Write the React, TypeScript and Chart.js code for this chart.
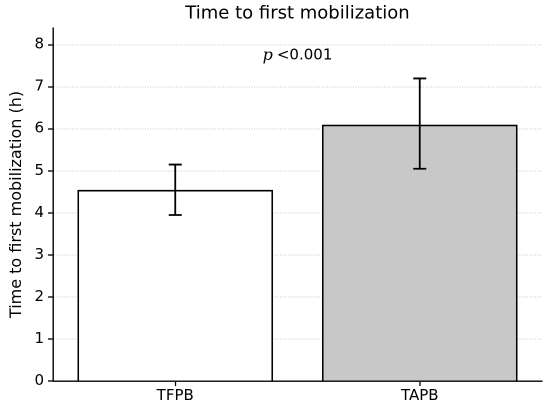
import { useEffect, useRef } from 'react';
import { Chart, registerables } from 'chart.js';

Chart.register(...registerables);

const groups = ['TFPB', 'TAPB'];
const means = [4.55, 6.1];
const errLow = [3.95, 5.05];
const errHigh = [5.15, 7.2];
const barColors = ['#ffffff', '#c8c8c8'];
const chartTitle = 'Time to first mobilization';
const pText = '<0.001';
const pLevel = 7.74;

const FONT = "'DejaVu Sans', sans-serif";

const errorBars = {
  id: 'errorBars',
  afterDatasetsDraw(chart: Chart) {
    const { ctx, scales } = chart;
    const x = scales.x;
    const y = scales.y;
    ctx.save();
    ctx.strokeStyle = '#000';
    ctx.lineWidth = 1.8;
    groups.forEach((_, i) => {
      const cx = x.getPixelForValue(i);
      const top = y.getPixelForValue(errHigh[i]);
      const bot = y.getPixelForValue(errLow[i]);
      ctx.beginPath();
      ctx.moveTo(cx, top);
      ctx.lineTo(cx, bot);
      ctx.moveTo(cx - 6.5, top);
      ctx.lineTo(cx + 6.5, top);
      ctx.moveTo(cx - 6.5, bot);
      ctx.lineTo(cx + 6.5, bot);
      ctx.stroke();
    });

    const area = chart.chartArea;
    const midX = (area.left + area.right) / 2;

    // title, centred over the plot area like matplotlib
    ctx.fillStyle = '#000';
    ctx.textBaseline = 'middle';
    ctx.textAlign = 'center';
    ctx.font = `18px ${FONT}`;
    ctx.fillText(chartTitle, midX, 14);

    // p-value annotation
    const py = y.getPixelForValue(pLevel);
    const pFont = "italic 16px 'DejaVu Serif', serif";
    const rFont = `15px ${FONT}`;
    ctx.textAlign = 'left';
    ctx.font = pFont;
    const pw = ctx.measureText('p').width;
    ctx.font = rFont;
    const rw = ctx.measureText(pText).width;
    const startX = midX - (pw + 4 + rw) / 2;
    ctx.font = pFont;
    ctx.fillText('p', startX, py);
    ctx.font = rFont;
    ctx.fillText(pText, startX + pw + 4, py);
    ctx.restore();
  },
};

export default function App() {
  const canvasRef = useRef<HTMLCanvasElement | null>(null);

  useEffect(() => {
    document.body.style.margin = '0';
    if (canvasRef.current === null) return () => {};
    const chart = new Chart(canvasRef.current, {
      type: 'bar',
      data: {
        labels: groups,
        datasets: [
          {
            data: means,
            backgroundColor: barColors,
            borderColor: '#000',
            borderWidth: 1.7,
            categoryPercentage: 0.8,
            barPercentage: 1,
          },
        ],
      },
      plugins: [errorBars],
      options: {
        animation: false,
        responsive: false,
        devicePixelRatio: 2,
        layout: { padding: { left: 0, right: 8, top: 28, bottom: 0 } },
        plugins: {
          legend: { display: false },
          tooltip: { enabled: false },
          title: { display: false },
        },
        scales: {
          x: {
            grid: {
              offset: false,
              drawOnChartArea: false,
              drawTicks: true,
              tickLength: 5,
              tickColor: '#000',
              tickWidth: 1.3,
            },
            border: { color: '#000', width: 1.4 },
            ticks: {
              color: '#000',
              font: { family: FONT, size: 15 },
              padding: 1,
            },
            afterFit: (scale: any) => {
              scale.height = 29;
            },
          },
          y: {
            min: 0,
            max: 8.4,
            ticks: {
              stepSize: 1,
              includeBounds: false,
              color: '#000',
              font: { family: FONT, size: 15 },
              padding: 4,
            },
            grid: {
              color: '#b8b8b8',
              lineWidth: 0.8,
              tickColor: '#000',
              tickLength: 5,
              tickWidth: 1.3,
              tickBorderDash: [],
            },
            border: { color: '#000', width: 1.4, dash: [1, 1.6] },
            title: {
              display: true,
              text: 'Time to first mobilization (h)',
              color: '#000',
              font: { family: FONT, size: 16 },
              padding: { top: 7, bottom: 0 },
            },
            afterFit: (scale: any) => {
              scale.width = 53;
            },
          },
        },
      },
    });
    return () => {
      chart.destroy();
    };
  }, []);

  return <canvas ref={canvasRef} width={550} height={410} style={{ width: 550, height: 410, display: 'block' }} />;
}
